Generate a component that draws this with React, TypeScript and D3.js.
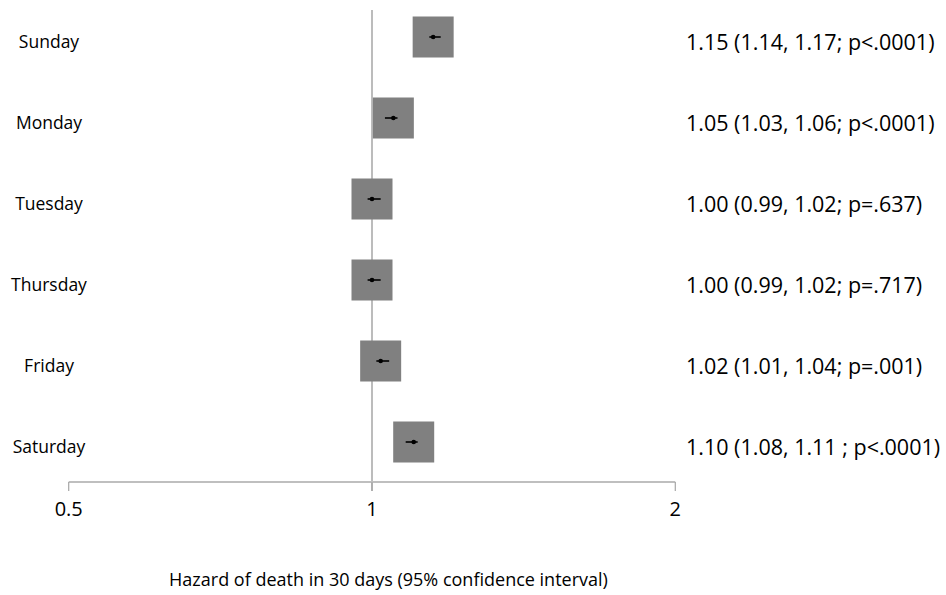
import React from "react";
import * as d3 from "d3";

const categories = ["Sunday", "Monday", "Tuesday", "Thursday", "Friday", "Saturday"];
const estimates = [1.15, 1.05, 1.0, 1.0, 1.02, 1.1];
const lower = [1.14, 1.03, 0.99, 0.99, 1.01, 1.08];
const upper = [1.17, 1.06, 1.02, 1.02, 1.04, 1.11];
const valueLabels = [
  "1.15 (1.14, 1.17; p<.0001)",
  "1.05 (1.03, 1.06; p<.0001)",
  "1.00 (0.99, 1.02; p=.637)",
  "1.00 (0.99, 1.02; p=.717)",
  "1.02 (1.01, 1.04; p=.001)",
  "1.10 (1.08, 1.11 ; p<.0001)",
];
const tickValues = [0.5, 1, 2];
const tickLabels = ["0.5", "1", "2"];
const axisTitle = "Hazard of death in 30 days (95% confidence interval)";

const W = 946;
const H = 595;
const FONT = "'Open Sans', 'Liberation Sans', sans-serif";

export default function App() {
  const x = d3.scaleLog().domain([0.5, 2]).range([68.7, 675.3]);
  const y = d3.scalePoint<string>().domain(categories).range([37, 442]);
  const axisY = 482;
  const box = 41;

  return (
    <svg
      width={W}
      height={H}
      style={{ position: "absolute", left: 0, top: 0, background: "#fff" }}
      fontFamily={FONT}
    >
      <line x1={x(1)} x2={x(1)} y1={10} y2={axisY + 9} stroke="#a6a6a6" strokeWidth={1.5} />
      <line x1={x(0.5)} x2={x(2)} y1={axisY} y2={axisY} stroke="#bfbfbf" strokeWidth={1.8} />
      {tickValues.map((t, i) => (
        <g key={t}>
          <line x1={x(t)} x2={x(t)} y1={axisY} y2={axisY + 9} stroke="#a6a6a6" strokeWidth={1.2} />
          <text
            x={x(t)}
            y={axisY + 26}
            textAnchor="middle"
            dominantBaseline="central"
            fontSize={20}
            fill="#000"
          >
            {tickLabels[i]}
          </text>
        </g>
      ))}
      {categories.map((c, i) => {
        const cy = y(c)!;
        const cx = x(estimates[i]);
        return (
          <g key={c}>
            <rect x={cx - box / 2} y={cy - box / 2} width={box} height={box} fill="#808080" />
            <line x1={x(lower[i])} x2={x(upper[i])} y1={cy} y2={cy} stroke="#000" strokeWidth={1.6} />
            <circle cx={cx} cy={cy} r={2.3} fill="#000" />
            <text
              x={49}
              y={cy + 4}
              textAnchor="middle"
              dominantBaseline="central"
              fontSize={17.5}
              fill="#000"
            >
              {c}
            </text>
            <text
              x={686}
              y={cy + 4}
              textAnchor="start"
              dominantBaseline="central"
              fontSize={21.5}
              fill="#000"
            >
              {valueLabels[i]}
            </text>
          </g>
        );
      })}
      <text
        x={388.5}
        y={579}
        textAnchor="middle"
        dominantBaseline="central"
        fontSize={18}
        fill="#000"
      >
        {axisTitle}
      </text>
    </svg>
  );
}
